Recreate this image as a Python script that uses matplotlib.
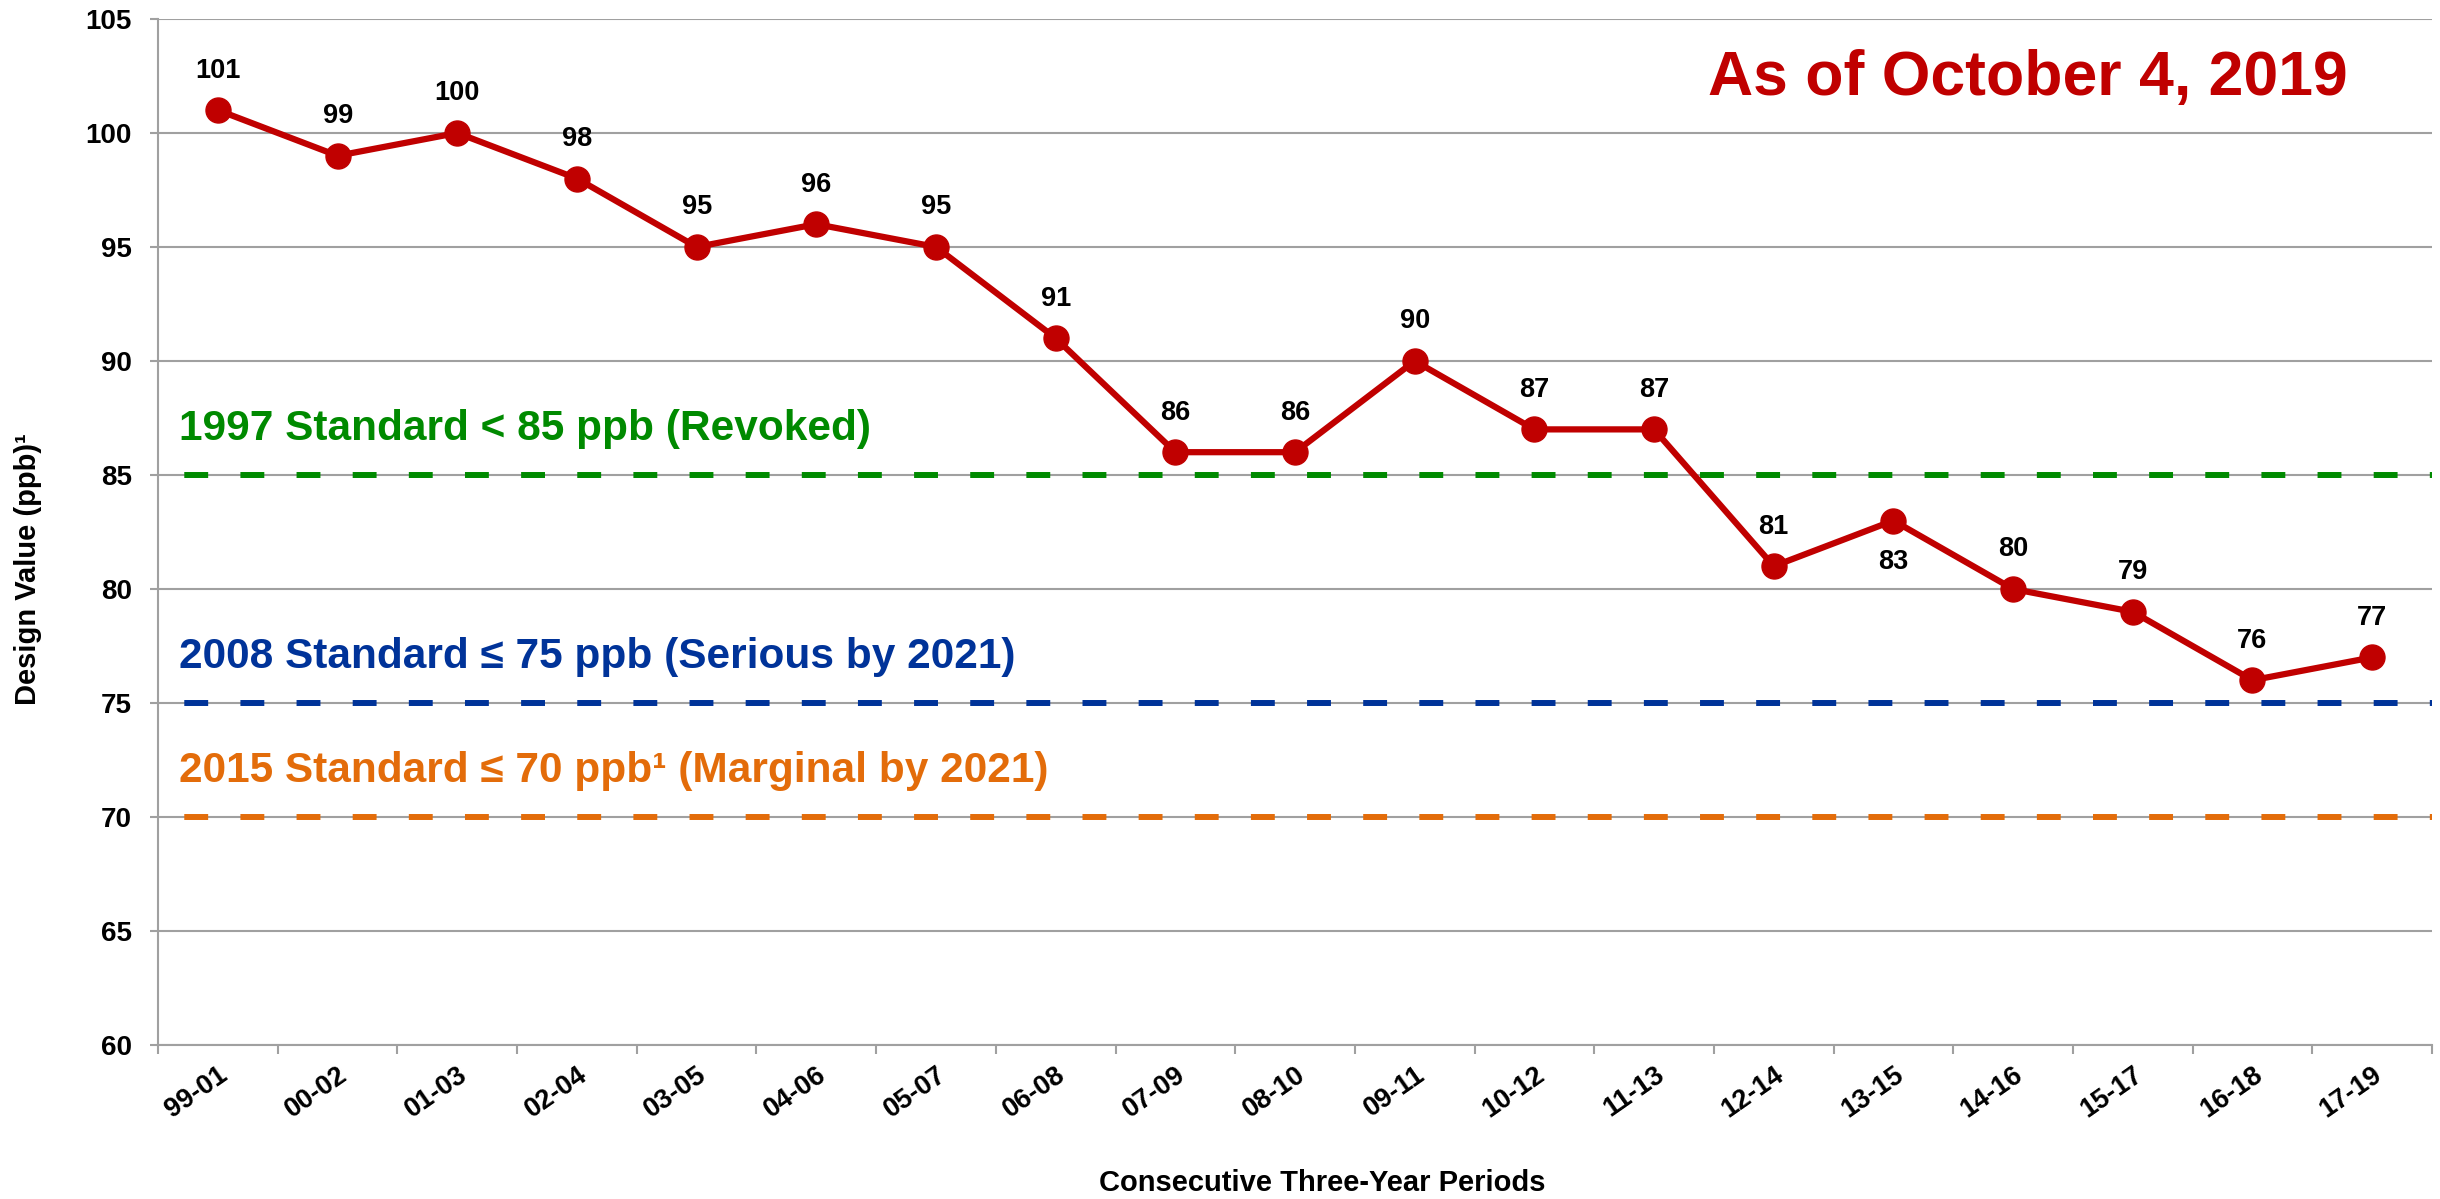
import numpy as np
import matplotlib.pyplot as plt
from matplotlib.transforms import blended_transform_factory, ScaledTranslation

# fonts: Arial-like bold everywhere
plt.rcParams['font.family'] = ['Liberation Sans', 'DejaVu Sans']
plt.rcParams['font.weight'] = 'bold'

# data
periods = ['99-01', '00-02', '01-03', '02-04', '03-05', '04-06', '05-07', '06-08',
           '07-09', '08-10', '09-11', '10-12', '11-13', '12-14', '13-15', '14-16',
           '15-17', '16-18', '17-19']
design_values = [101, 99, 100, 98, 95, 96, 95, 91, 86, 86, 90, 87, 87, 81, 83, 80, 79, 76, 77]
label_below = ['13-15']

std_levels = [85, 75, 70]
std_labels = ['1997 Standard < 85 ppb (Revoked)',
              '2008 Standard \u2264 75 ppb (Serious by 2021)',
              '2015 Standard \u2264 70 ppb\u00b9 (Marginal by 2021)']
std_colors = ['#008A00', '#003399', '#E36C0A']

y_ticks = [60, 65, 70, 75, 80, 85, 90, 95, 100, 105]

red = '#C00000'
grid_col = '#A0A0A0'

fig = plt.figure(figsize=(24.4, 11.99), dpi=100)
ax = fig.add_axes([0.0648, 0.1284, 0.9319, 0.8558])

x = np.arange(len(periods))

# gridlines
ax.set_ylim(60, 105)
ax.set_xlim(-0.5, len(periods) - 0.5)
ax.set_yticks(y_ticks)
ax.yaxis.grid(True, color=grid_col, linewidth=1.5)
ax.set_axisbelow(True)

# standard lines (dashed)
trans = blended_transform_factory(ax.transAxes, ax.transData)
for lvl, lab, col in zip(std_levels, std_labels, std_colors):
    ax.plot([-0.5, len(periods) - 0.5], [lvl, lvl], color=col, linewidth=4.3,
            linestyle=(5.0, (4.0, 5.4)), dash_capstyle='butt', zorder=2)
    ax.text(0.0092, lvl + 1.55, lab, color=col, fontsize=30.5, fontweight='bold',
            transform=trans, ha='left', va='baseline')

# design value series
ax.plot(x, design_values, color=red, linewidth=4.5, marker='o', markersize=18,
        markerfacecolor=red, markeredgecolor=red, zorder=3)
for xi, p, v in zip(x, periods, design_values):
    off = -30 if p in label_below else 28.5
    ax.annotate(str(v), (xi, v), xytext=(0, off), textcoords='offset points',
                ha='center', va='center', fontsize=19.5, fontweight='bold')

# axes styling
for s in ['top', 'right']:
    ax.spines[s].set_visible(False)
for s in ['left', 'bottom']:
    ax.spines[s].set_color(grid_col)
    ax.spines[s].set_linewidth(1.5)

ax.set_xticks(x)
ax.set_xticklabels(periods, rotation=35, ha='right', va='top', rotation_mode='anchor',
                   fontsize=19.5, fontweight='bold')
shift = ScaledTranslation(-9 / 100, 0, fig.dpi_scale_trans)
for t in ax.get_xticklabels():
    t.set_transform(t.get_transform() + shift)
ax.set_xticks(np.arange(-0.5, len(periods)), minor=True)
ax.tick_params(axis='x', which='major', length=0, pad=12)
ax.tick_params(axis='x', which='minor', length=6.5, width=1.5, color=grid_col)
ax.tick_params(axis='y', length=6, width=1.5, color=grid_col, labelsize=20, pad=13)
for t in ax.get_yticklabels():
    t.set_fontweight('bold')

fig.text(0.542, 0.0133, 'Consecutive Three-Year Periods', fontsize=21,
         fontweight='bold', ha='center', va='center')
fig.text(0.0115, 0.5254, 'Design Value (ppb)\u00b9', fontsize=21, fontweight='bold',
         rotation=90, ha='center', va='center')
fig.text(0.831, 0.9208, 'As of October 4, 2019', fontsize=45, fontweight='bold',
         color=red, ha='center', va='baseline')

fig.savefig('out.png', dpi=100)
